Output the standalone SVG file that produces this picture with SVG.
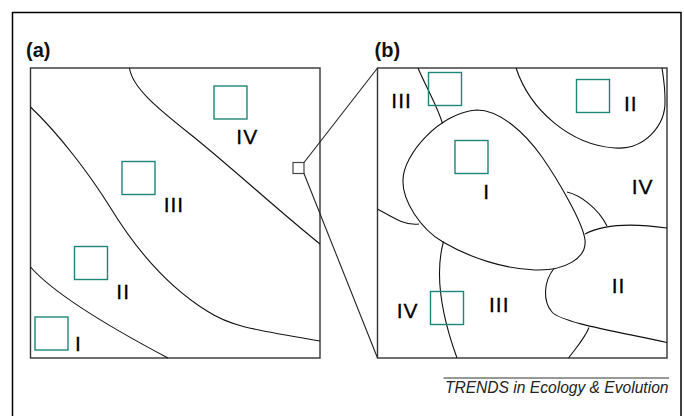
<svg xmlns="http://www.w3.org/2000/svg" width="684" height="416" viewBox="0 0 684 416">
<style>
.frame{fill:none;stroke:#000;stroke-width:1.5}
.panel{fill:none;stroke:#333;stroke-width:1.4}
.bd{fill:none;stroke:#111;stroke-width:1.1}
.q{fill:none;stroke:#1e8579;stroke-width:1.4}
.lab{font-family:"Liberation Sans",Arial,sans-serif;font-size:21px;fill:#000;letter-spacing:1px;stroke:#000;stroke-width:0.3}
.ttl{font-family:"Liberation Sans",Arial,sans-serif;font-size:20px;font-weight:bold;fill:#111}
.cap{font-family:"Liberation Sans",Arial,sans-serif;font-size:15.6px;font-style:italic;fill:#222}
</style>
<rect width="684" height="416" fill="#fff"/>
<rect class="frame" x="12.5" y="12.5" width="668.5" height="420"/>
<g id="panel-a">
<text class="ttl" x="26" y="56.5">(a)</text>
<rect class="panel" x="30.5" y="68" width="289.5" height="290"/>
<path class="bd" d="M129.5,68 C132,88 160,110 190,134 C230,166 280,212 320,244"/>
<path class="bd" d="M30.5,107 C60,135 90,175 110,207 C135,248 165,285 207,311 C230,326 250,329 320,341"/>
<path class="bd" d="M30.5,267 C55,295 115,330 168,358"/>
<rect class="q" x="214" y="86" width="33" height="33"/>
<rect class="q" x="122" y="161.5" width="33" height="33"/>
<rect class="q" x="74.5" y="246.5" width="33" height="33"/>
<rect class="q" x="35" y="317" width="33" height="33"/>
<text class="lab" x="236.3" y="144">IV</text>
<text class="lab" x="163.7" y="212">III</text>
<text class="lab" x="116.3" y="299">II</text>
<text class="lab" x="75" y="351">I</text>
<rect x="293" y="162.5" width="11" height="11" fill="none" stroke="#444" stroke-width="1.2"/>
</g>
<g id="connectors">
<line x1="304" y1="162.5" x2="377.5" y2="68" stroke="#222" stroke-width="1.1"/>
<line x1="304" y1="173.5" x2="377.5" y2="358" stroke="#222" stroke-width="1.1"/>
</g>
<g id="panel-b">
<text class="ttl" x="374.5" y="56.5">(b)</text>
<rect class="panel" x="377.5" y="68" width="289.5" height="290"/>
<path class="bd" d="M418,68 C425,85 437,105 442.5,123.5"/>
<path class="bd" d="M477,110 C500,110 525,133 542,157 C556,177 583,222 585,240 C587,258 565,271 535,270 C505,269 470,258 443,242 C420,228.5 402,200 403,180 C403,155 440,112 477,110 Z"/>
<path class="bd" d="M567,192 C580,195 598,208 607,226"/>
<path class="bd" d="M585,234 C600,226 625,222 667,228"/>
<path class="bd" d="M554,268.5 C543,282 543,302 552,312 C562,323 620,332 667,342.5"/>
<path class="bd" d="M589,327.5 C585,338 576,348 568.5,358"/>
<path class="bd" d="M443.5,241.5 C437,265 436,300 457,358"/>
<path class="bd" d="M377.5,209 C392,217 405,226 419,224"/>
<path class="bd" d="M516,68 C530,110 570,145 615,148 C645,150 666,125 665,100 C665,85 663,75 662,68"/>
<rect class="q" x="428.5" y="72.5" width="33" height="33"/>
<rect class="q" x="455" y="140.5" width="33" height="33"/>
<rect class="q" x="576.5" y="79.5" width="33" height="33"/>
<rect class="q" x="430.5" y="291.5" width="33" height="33"/>
<text class="lab" x="391.3" y="107.7">III</text>
<text class="lab" x="624" y="111">II</text>
<text class="lab" x="483.3" y="199">I</text>
<text class="lab" x="631.7" y="194.3">IV</text>
<text class="lab" x="396.7" y="318">IV</text>
<text class="lab" x="489" y="312.3">III</text>
<text class="lab" x="611.7" y="293">II</text>
</g>
<g id="caption">
<line x1="443.5" y1="378" x2="669" y2="378" stroke="#333" stroke-width="1"/>
<text class="cap" x="668.5" y="393" text-anchor="end">TRENDS in Ecology &amp; Evolution</text>
</g>
</svg>
